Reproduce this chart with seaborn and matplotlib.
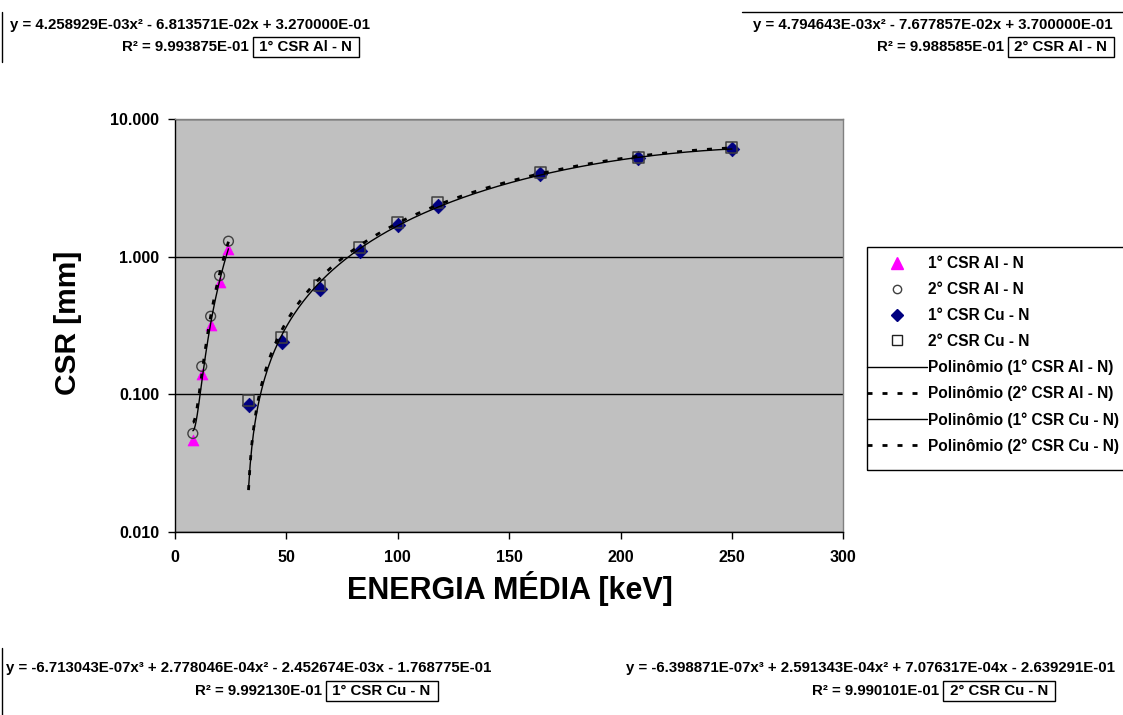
import numpy as np
import pandas as pd
import matplotlib
matplotlib.use("Agg")
import matplotlib.pyplot as plt
import seaborn as sns
from matplotlib.lines import Line2D
from matplotlib.patches import Rectangle
from matplotlib.ticker import FixedLocator, FuncFormatter, NullLocator

# ---------------- data ----------------
energy_al = [8, 12, 16, 20, 24]
csr1_al = [0.047, 0.14, 0.32, 0.66, 1.15]
csr2_al = [0.052, 0.16, 0.37, 0.73, 1.30]
energy_cu = [33, 48, 65, 83, 100, 118, 164, 208, 250]
csr1_cu = [0.084, 0.24, 0.58, 1.11, 1.71, 2.36, 3.99, 5.19, 6.12]
csr2_cu = [0.091, 0.26, 0.62, 1.17, 1.77, 2.47, 4.09, 5.28, 6.24]

series_names = ["1° CSR Al - N", "2° CSR Al - N", "1° CSR Cu - N", "2° CSR Cu - N"]
fit_names = ["Polinômio (1° CSR Al - N)", "Polinômio (2° CSR Al - N)",
             "Polinômio (1° CSR Cu - N)", "Polinômio (2° CSR Cu - N)"]
fit_orders = [2, 2, 3, 3]

eq_lines = [
    "y = 4.258929E-03x² - 6.813571E-02x + 3.270000E-01",
    "y = 4.794643E-03x² - 7.677857E-02x + 3.700000E-01",
    "y = -6.713043E-07x³ + 2.778046E-04x² - 2.452674E-03x - 1.768775E-01",
    "y = -6.398871E-07x³ + 2.591343E-04x² + 7.076317E-04x - 2.639291E-01",
]
r2_lines = ["R² = 9.993875E-01", "R² = 9.988585E-01",
            "R² = 9.992130E-01", "R² = 9.990101E-01"]

x_ticks = [0, 50, 100, 150, 200, 250, 300]
y_ticks = [0.01, 0.1, 1, 10]

# ---------------- style ----------------
sns.set_style("white")
plt.rcParams["font.family"] = ["Liberation Sans", "DejaVu Sans"]
plt.rcParams["font.weight"] = "bold"
for key in ["text.color", "axes.labelcolor", "xtick.color", "ytick.color"]:
    plt.rcParams[key] = "black"

W, H = 1123, 715
fig = plt.figure(figsize=(W / 100, H / 100), dpi=100)
fig.patch.set_facecolor("white")

def fx(x):
    return x / W

def fy(y):
    return 1 - y / H

ax = fig.add_axes([fx(175), fy(532), fx(843.3) - fx(175), fy(119.3) - fy(532)])
ax.set_facecolor("#C0C0C0")

xs = [energy_al, energy_al, energy_cu, energy_cu]
ys = [csr1_al, csr2_al, csr1_cu, csr2_cu]

marker_styles = [
    dict(marker="^", s=62, color="#FF00FF", edgecolor="#FF00FF", linewidth=0.5),
    dict(marker="o", s=50, facecolor="none", edgecolor="#404040", linewidth=1.0),
    dict(marker="D", s=55, color="#000080", edgecolor="#000080", linewidth=0.5),
    dict(marker="s", s=64, facecolor="none", edgecolor="#404040", linewidth=1.1),
]

for x, y, name, st in zip(xs, ys, series_names, marker_styles):
    df = pd.DataFrame({"x": x, "y": y})
    sns.scatterplot(data=df, x="x", y="y", ax=ax, zorder=3, legend=False, **st)

line_styles = [
    dict(color="black", linewidth=1.0, linestyle="-"),
    dict(color="black", linewidth=2.0, linestyle=(0, (1.8, 3.6))),
    dict(color="black", linewidth=1.0, linestyle="-"),
    dict(color="black", linewidth=2.0, linestyle=(0, (1.8, 3.6))),
]

for x, y, order, st in zip(xs, ys, fit_orders, line_styles):
    coef = np.polyfit(x, y, order)
    xx = np.linspace(min(x), max(x), 300)
    yy = np.polyval(coef, xx)
    dfl = pd.DataFrame({"x": xx, "y": yy})
    sns.lineplot(data=dfl, x="x", y="y", ax=ax, estimator=None, sort=False,
                 zorder=4, legend=False, **st)

ax.set_yscale("log")
ax.set_xlim(0, 300)
ax.set_ylim(0.01, 10)
ax.xaxis.set_major_locator(FixedLocator(x_ticks))
ax.yaxis.set_major_locator(FixedLocator(y_ticks))
ax.yaxis.set_minor_locator(NullLocator())
ax.xaxis.set_minor_locator(NullLocator())
ax.yaxis.set_major_formatter(FuncFormatter(lambda v, p: f"{v:.3f}"))
ax.set_xlabel("")
ax.set_ylabel("")
ax.tick_params(axis="both", which="major", direction="out", length=5, width=1,
               color="black", labelsize=11.5, labelcolor="black",
               bottom=True, left=True, top=False, right=False)
ax.tick_params(axis="x", pad=8)
ax.tick_params(axis="y", pad=6.5)
for lab in ax.get_xticklabels() + ax.get_yticklabels():
    lab.set_fontweight("bold")

ax.yaxis.grid(True, color="black", linewidth=1.0)
ax.xaxis.grid(False)
ax.set_axisbelow(True)
for side in ["top", "right"]:
    ax.spines[side].set_color("#808080")
    ax.spines[side].set_linewidth(1.0)
for side in ["left", "bottom"]:
    ax.spines[side].set_color("black")
    ax.spines[side].set_linewidth(1.0)
    ax.spines[side].set_visible(True)

fig.text(fx(68), fy(323), "CSR [mm]", rotation=90, ha="center", va="center",
         fontsize=21.5, fontweight="bold")
fig.text(fx(510), fy(588), "ENERGIA MÉDIA [keV]", ha="center", va="center",
         fontsize=22, fontweight="bold")

# ---------------- legend ----------------
handles = [
    Line2D([], [], marker="^", ls="none", color="#FF00FF", markersize=8),
    Line2D([], [], marker="o", ls="none", markerfacecolor="none",
           markeredgecolor="#404040", markersize=6),
    Line2D([], [], marker="D", ls="none", color="#000080", markersize=6),
    Line2D([], [], marker="s", ls="none", markerfacecolor="none",
           markeredgecolor="#202020", markersize=6.5),
    Line2D([], [], **line_styles[0]),
    Line2D([], [], **line_styles[1]),
    Line2D([], [], **line_styles[2]),
    Line2D([], [], **line_styles[3]),
]
labels = series_names + fit_names
leg = fig.legend(handles, labels, loc="upper left",
                 bbox_to_anchor=(fx(867), fy(256.5)),
                 bbox_transform=fig.transFigure, frameon=False, borderaxespad=0,
                 prop={"weight": "bold", "size": 11.2},
                 handlelength=3.85, handletextpad=0.1, labelspacing=0.69,
                 borderpad=0)
fig.add_artist(Rectangle((fx(867), fy(470)), fx(1140) - fx(867), fy(246.7) - fy(470),
                         transform=fig.transFigure, fill=False, edgecolor="black",
                         linewidth=1.0, clip_on=False))

# ---------------- trendline labels ----------------
eq_font = dict(fontsize=10.8, fontweight="bold", va="center", ha="left")
box = dict(boxstyle="square,pad=0.18", facecolor="white", edgecolor="black", linewidth=1)

# (line1 x, line1 y, R2 x, line2 y)
label_pos = [
    (10, 25, 122, 47),
    (753, 25, 877, 47),
    (6, 668, 195, 691),
    (626, 668, 812, 691),
]
fig.canvas.draw()
renderer = fig.canvas.get_renderer()
for (x1, y1, x2, y2), eq, r2, name in zip(label_pos, eq_lines, r2_lines, series_names):
    fig.text(fx(x1), fy(y1), eq, **eq_font)
    t2 = fig.text(fx(x2), fy(y2), r2, **eq_font)
    x_end = t2.get_window_extent(renderer).x1
    fig.text(fx(x_end + 6.5), fy(y2), " " + name + " ", bbox=box, **eq_font)

# chart-area border fragments
fig.add_artist(Line2D([fx(1.5), fx(1.5)], [fy(12), fy(62)], color="black", lw=1,
                      transform=fig.transFigure))
fig.add_artist(Line2D([fx(1.5), fx(1.5)], [fy(648), fy(715)], color="black", lw=1,
                      transform=fig.transFigure))
fig.add_artist(Line2D([fx(742), fx(1123)], [fy(12.3), fy(12.3)], color="black", lw=1,
                      transform=fig.transFigure))

fig.savefig("out.png", dpi=100, facecolor="white")
